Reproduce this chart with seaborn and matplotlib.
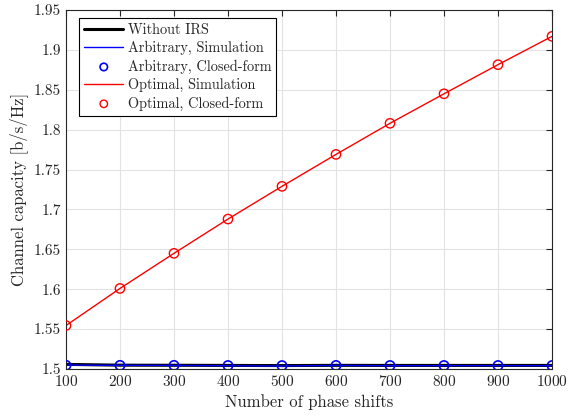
import numpy as np
import pandas as pd
import seaborn as sns
import matplotlib.pyplot as plt

# data
phase_shifts = [100, 200, 300, 400, 500, 600, 700, 800, 900, 1000]
without_irs = [1.5058, 1.5048, 1.5047, 1.5045, 1.5043, 1.5046, 1.5045, 1.5045, 1.5045, 1.5045]
arbitrary_sim = [1.5050, 1.5046, 1.5045, 1.5041, 1.5037, 1.5045, 1.5041, 1.5042, 1.5042, 1.5041]
arbitrary_cf = [1.5046, 1.5045, 1.5045, 1.5043, 1.5042, 1.5044, 1.5043, 1.5043, 1.5043, 1.5043]
optimal_sim = [1.5545, 1.6010, 1.6450, 1.6880, 1.7290, 1.7690, 1.8080, 1.8450, 1.8815, 1.9170]
optimal_cf = [1.5545, 1.6010, 1.6450, 1.6880, 1.7290, 1.7690, 1.8080, 1.8450, 1.8815, 1.9170]

sns.set_style("white")
plt.rcParams['font.family'] = 'serif'
plt.rcParams['font.serif'] = ['cmr10', 'DejaVu Serif']
plt.rcParams['axes.formatter.use_mathtext'] = True
plt.rcParams['mathtext.fontset'] = 'cm'

df = pd.DataFrame({'N': phase_shifts, 'wo': without_irs, 'arb_sim': arbitrary_sim,
                   'arb_cf': arbitrary_cf, 'opt_sim': optimal_sim, 'opt_cf': optimal_cf})

fig = plt.figure(figsize=(5.85, 4.18), dpi=100)
ax = fig.add_axes([0.1128, 0.1172, 0.8308, 0.8588])

sns.lineplot(data=df, x='N', y='wo', color='black', linewidth=2.2, ax=ax, label='Without IRS')
sns.lineplot(data=df, x='N', y='arb_sim', color='blue', linewidth=1.0, ax=ax, label='Arbitrary, Simulation')
sns.scatterplot(data=df, x='N', y='arb_cf', marker='o', s=45, facecolors='none',
                edgecolor='blue', linewidth=1.2, ax=ax, label='Arbitrary, Closed-form', zorder=5)
sns.lineplot(data=df, x='N', y='opt_sim', color='red', linewidth=1.0, ax=ax, label='Optimal, Simulation')
sns.scatterplot(data=df, x='N', y='opt_cf', marker='o', s=45, facecolors='none',
                edgecolor='red', linewidth=1.0, ax=ax, label='Optimal, Closed-form', zorder=5)

ax.set_xlim(100, 1000)
ax.set_ylim(1.5, 1.95)
ax.set_xticks(phase_shifts)
ax.set_yticks(np.round(np.arange(1.5, 1.951, 0.05), 2))
ax.set_yticklabels(['1.5', '1.55', '1.6', '1.65', '1.7', '1.75', '1.8', '1.85', '1.9', '1.95'])
ax.grid(True, color='#e3e3e3', linewidth=0.8)
ax.tick_params(direction='in', top=True, right=True, length=4, width=0.8,
               colors='#262626', labelsize=11)
for sp in ax.spines.values():
    sp.set_color('#262626')
    sp.set_linewidth(0.8)
    sp.set_visible(True)

ax.set_xlabel('Number of phase shifts', fontsize=12, color='#262626')
ax.set_ylabel('Channel capacity [b/s/Hz]', fontsize=12, color='#262626')

leg = ax.legend(loc='upper left', bbox_to_anchor=(0.027, 0.978), fontsize=10.3,
                frameon=True, fancybox=False, edgecolor='black', framealpha=1,
                borderpad=0.35, labelspacing=0.3, handlelength=2.75, handletextpad=0.3,
                borderaxespad=0, markerscale=0.8)
leg.get_frame().set_linewidth(0.8)

fig.savefig('out.png', dpi=100)
